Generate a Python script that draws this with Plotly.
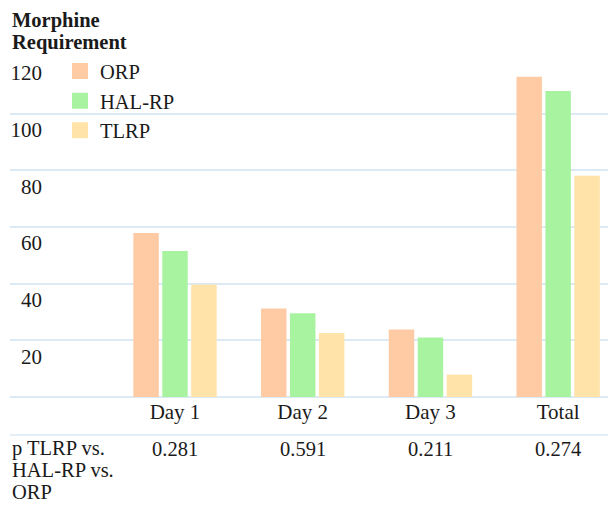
import plotly.graph_objects as go

categories = ["Day 1", "Day 2", "Day 3", "Total"]
orp = [57.9, 31.2, 23.8, 113.0]
hal_rp = [51.5, 29.6, 21.0, 108.0]
tlrp = [39.7, 22.6, 7.9, 78.1]
p_values = ["0.281", "0.591", "0.211", "0.274"]
y_ticks = [20, 40, 60, 80, 100, 120]
title_lines = ["Morphine", "Requirement"]
p_label_lines = ["p TLRP vs.", "HAL-RP vs.", "ORP"]

series = [("ORP", orp, "#FFCBA4"), ("HAL-RP", hal_rp, "#A8F3A0"), ("TLRP", tlrp, "#FFE3A8")]

FONT = "Liberation Serif"
GRID = "#DCEAF5"

fig = go.Figure()
for name, vals, col in series:
    fig.add_trace(go.Bar(x=categories, y=vals, name=name, marker_color=col,
                         marker_line_width=0, showlegend=False))
for name, vals, col in series:
    fig.add_trace(go.Scatter(x=[None], y=[None], mode="markers", name=name,
                             marker=dict(symbol="square", size=16, color=col)))

# page body has an 8px margin, so the figure is sized to 608x501
fig.update_layout(
    width=608, height=501,
    margin=dict(l=2, r=0, t=49, b=112),
    paper_bgcolor="white", plot_bgcolor="white",
    barmode="group", bargap=0.32, bargroupgap=0.12,
    font=dict(family=FONT, size=20, color="#1a1a1a"),
    xaxis=dict(range=[-1.292, 3.453], showgrid=False, zeroline=False, showline=False,
               ticks="", tickfont=dict(size=21)),
    yaxis=dict(range=[0, 120], tickvals=y_ticks, showgrid=True, gridcolor=GRID, gridwidth=1.5,
               zeroline=True, zerolinecolor=GRID, zerolinewidth=1.5, showline=False,
               ticks="", anchor="free", position=0.053, ticklabelshift=16,
               tickfont=dict(size=21)),
    legend=dict(x=0.0825, xanchor="left", y=1.017, yanchor="top", yref="paper",
                bgcolor="rgba(0,0,0,0)", font=dict(size=20.5), tracegroupgap=0,
                itemsizing="trace"),
    showlegend=True,
)

for line, ys in zip(title_lines, [36.5, 14.5]):
    fig.add_annotation(xref="paper", yref="paper", x=0, y=1.0, xanchor="left", yanchor="middle",
                       yshift=ys, showarrow=False, text=f"<b>{line}</b>",
                       font=dict(size=20.5))

fig.add_shape(type="line", xref="paper", yref="paper", x0=0, x1=1, y0=-0.1118, y1=-0.1118,
              line=dict(color=GRID, width=1.5))

for c, p in zip(categories, p_values):
    fig.add_annotation(x=c, xref="x", yref="paper", y=0, yanchor="middle", yshift=-52,
                       showarrow=False, text=p, font=dict(size=20.5))

for line, ys in zip(p_label_lines, [-51, -73, -95]):
    fig.add_annotation(xref="paper", yref="paper", x=0, y=0, xanchor="left", yanchor="middle",
                       yshift=ys, showarrow=False, text=line, font=dict(size=20.5))

fig.write_html("out.html")
